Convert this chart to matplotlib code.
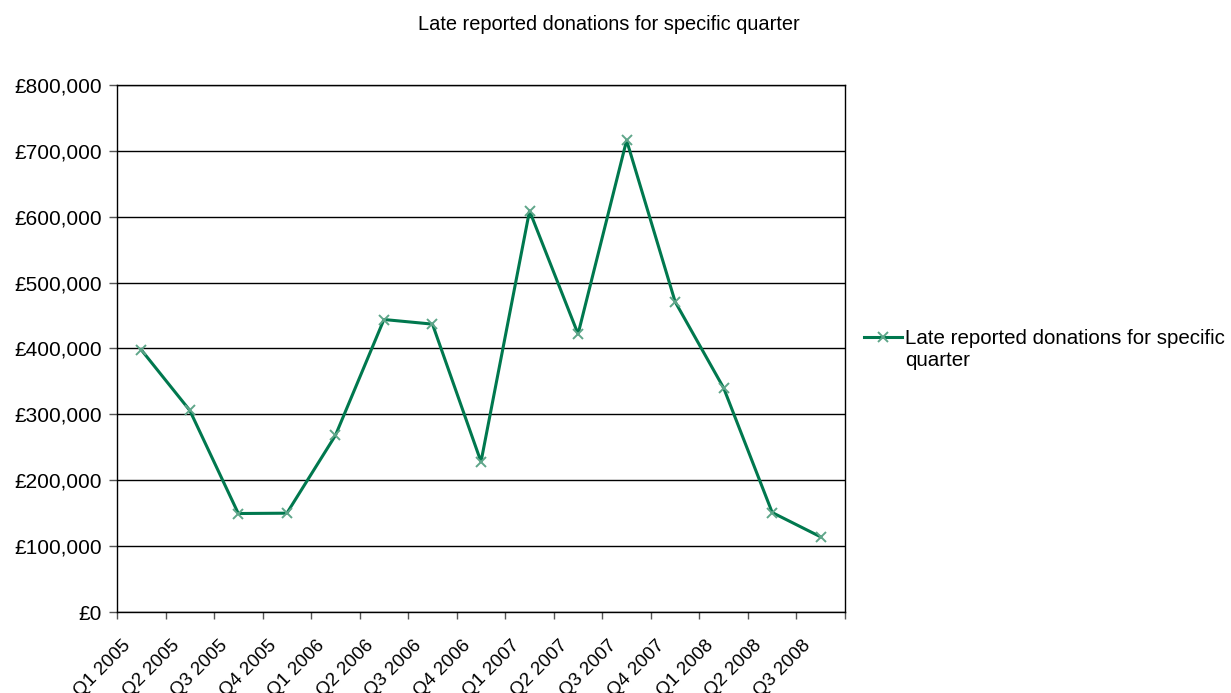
import matplotlib.pyplot as plt
from matplotlib.ticker import FuncFormatter
from matplotlib.transforms import ScaledTranslation
import numpy as np

quarters = ['Q1 2005', 'Q2 2005', 'Q3 2005', 'Q4 2005',
            'Q1 2006', 'Q2 2006', 'Q3 2006', 'Q4 2006',
            'Q1 2007', 'Q2 2007', 'Q3 2007', 'Q4 2007',
            'Q1 2008', 'Q2 2008', 'Q3 2008']
donations = [398000, 306000, 149500, 150000,
             268000, 444000, 437000, 228000,
             609000, 422000, 716000, 471000,
             340000, 151000, 114000]

plt.rcParams['font.family'] = ['Liberation Sans', 'DejaVu Sans']

fig = plt.figure(figsize=(12.31, 6.93), dpi=100)
ax = fig.add_axes([117/1231, 81/693, 728/1231, 527/693])

x = np.arange(len(quarters))
line, = ax.plot(x, donations, color='#00784e', linewidth=2.2,
                marker='x', markersize=7, markeredgecolor='#5fa68a',
                markeredgewidth=1.4)

ax.set_xlim(-0.5, len(quarters) - 0.5)
ax.set_ylim(0, 800000)
ax.set_yticks(np.arange(0, 800001, 100000))
ax.yaxis.set_major_formatter(FuncFormatter(lambda v, p: '£{:,.0f}'.format(v)))
ax.yaxis.grid(True, color='black', linewidth=1)
ax.set_axisbelow(True)

# quarter labels sit at the centres, tick marks at the boundaries
ax.set_xticks(x)
ax.set_xticklabels(quarters, rotation=45, ha='right', rotation_mode='anchor')
ax.set_xticks(np.arange(-0.5, len(quarters), 1), minor=True)
ax.tick_params(axis='x', which='major', length=0, pad=18, labelsize=13.5)
ax.tick_params(axis='x', which='minor', length=5, width=1, color='#555555')
ax.tick_params(axis='y', length=6, width=1, labelsize=15, pad=5, color='#555555')

shift = ScaledTranslation(-0.19, 0, fig.dpi_scale_trans)
for lab in ax.get_xticklabels():
    lab.set_transform(lab.get_transform() + shift)

for s in ax.spines.values():
    s.set_color('black')
    s.set_linewidth(1)

fig.text(609/1231, 1 - 24/693, 'Late reported donations for specific quarter',
         ha='center', va='center', fontsize=14.4)

# legend entry on one line, the wrapped word goes underneath
leg = fig.legend([line], ['Late reported donations for specific'],
                 loc='upper left', bbox_to_anchor=(864/1231, 1 - 329/693),
                 frameon=False, fontsize=14.8, handlelength=1.85,
                 handletextpad=0.15, borderpad=0, borderaxespad=0)
fig.canvas.draw()
bb = leg.get_texts()[0].get_window_extent()
fig.text(bb.x0 / fig.bbox.width, (bb.y0 - 3) / fig.bbox.height, 'quarter',
         ha='left', va='top', fontsize=14.8)

fig.savefig('out.png', dpi=100)
